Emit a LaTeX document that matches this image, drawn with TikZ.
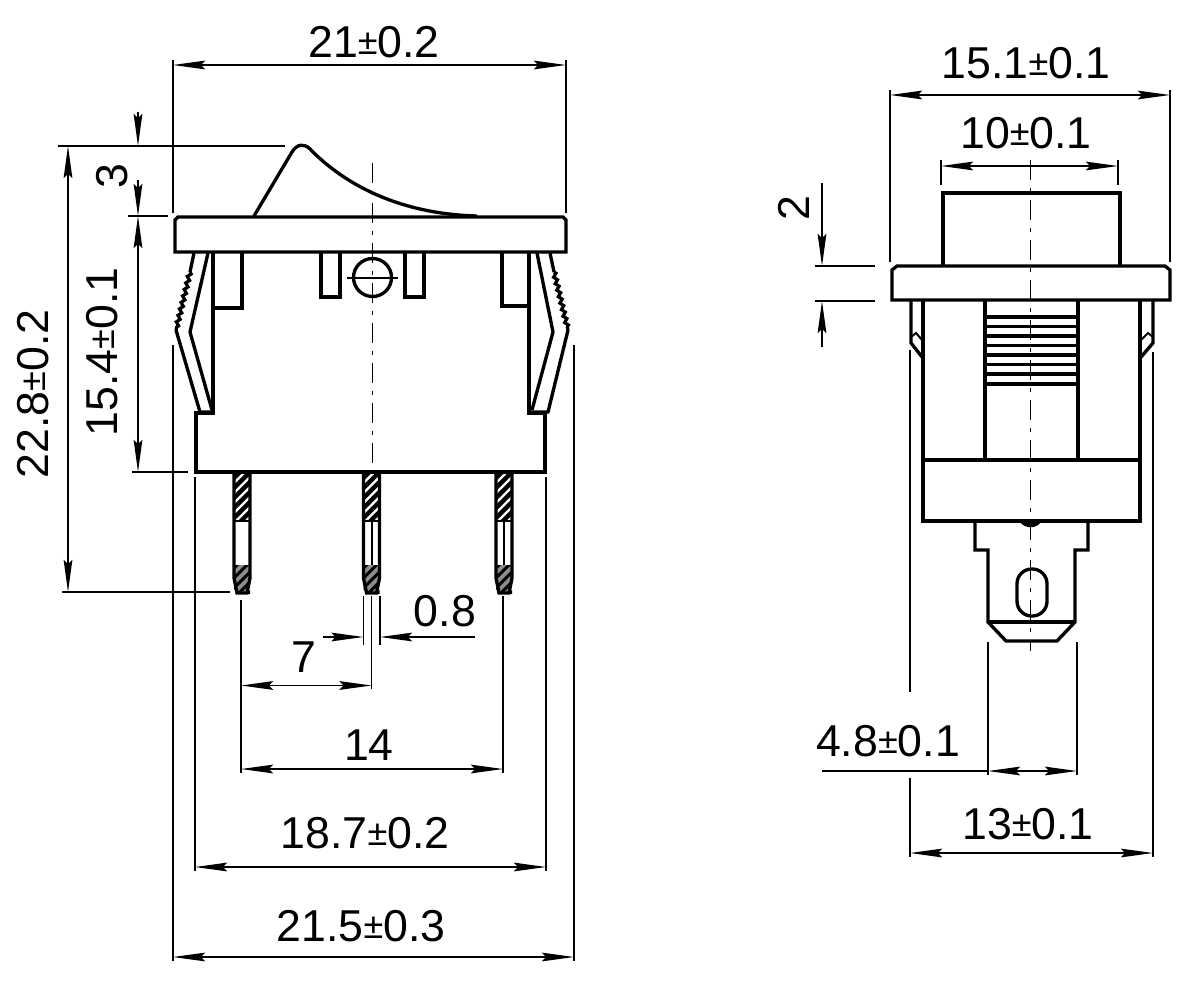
\documentclass[tikz,border=0pt]{standalone}
\usepackage{fontspec}
\setmainfont{Liberation Sans}
\usetikzlibrary{arrows.meta,decorations.pathmorphing}
\newcommand{\plusminus}{{\fontsize{27}{27}\selectfont\raisebox{2pt}{±}}}
\tikzset{
    body/.style={line width=2.5pt, line join=miter},
    thinbody/.style={line width=1.5pt},
    dimline/.style={line width=1.2pt},
    dimarrow/.style={line width=1.2pt, {Stealth[length=24pt,width=6.5pt,inset=3pt]}-{Stealth[length=24pt,width=6.5pt,inset=3pt]}},
    onetip/.style={line width=1.2pt, -{Stealth[length=24pt,width=6.5pt,inset=3pt]}},
    centerline/.style={line width=1.4pt, dash pattern=on 15pt off 6pt on 3pt off 6pt},
    dimtext/.style={inner sep=0pt, font=\fontsize{33.5}{38}\selectfont}
}
\begin{document}
\begin{tikzpicture}[x=0.75pt, y=-0.75pt]
    \useasboundingbox (0,0) rectangle (1194,988);
    \fill[white] (0,0) rectangle (1194,988);

    % Rocker
    \draw[body] (254,216) -- (292,152) .. controls (297,144) and (304,143) .. (310,149)
        .. controls (345,185) and (400,214) .. (477,216);
    % Flange
    \draw[body] (175,252) -- (175,220) -- (178,217) -- (563,217) -- (566,220) -- (566,252) -- cycle;
    % Housing
    \draw[body] (213,252) -- (213,413) -- (196,413) -- (196,472) -- (545,472) -- (545,413) -- (529,413) -- (529,252);
    % Tabs under the flange
    \draw[body] (213,308) -- (242,308) -- (242,252);
    \draw[body] (529,306) -- (502,306) -- (502,252);
    \draw[body] (321,252) -- (321,297) -- (340,297) -- (340,252);
    \draw[body] (405,252) -- (405,297) -- (424,297) -- (424,252);
    % Left clip
    \draw[body] (194,253) -- (190,272);
    \draw[line width=2.4pt, decorate, decoration={zigzag,segment length=5pt,amplitude=1.2pt}] (190,272) -- (176,330);
    \draw[body] (176,330) -- (200,412) -- (212,412);
    \draw[body] (208,253) -- (190,332) -- (212,410);
    % Right clip
    \draw[body] (550,253) -- (554,272);
    \draw[line width=2.4pt, decorate, decoration={zigzag,segment length=5pt,amplitude=1.2pt}] (554,272) -- (568,330);
    \draw[body] (568,330) -- (548,412) -- (530,412);
    \draw[body] (537,253) -- (553,332) -- (532,410);
    % Lamp hole
    \draw[body] (372.5,277.5) circle (19);
    \draw[thinbody] (347,277.5) -- (398,277.5);
    \draw[centerline] (372.5,163) -- (372.5,472);

    % Pins
    \foreach \px in {242,371.5,504} {
        \begin{scope}
            \clip (\px-8,473) rectangle (\px+8,521);
            \foreach \hy in {470,480,...,530}
                \draw[line width=3.2pt] (\px-9,\hy+9) -- (\px+9,\hy-9);
        \end{scope}
        \fill[black!45] (\px-8,565) -- (\px+8,565) -- (\px+8,578) -- (\px+5,593) -- (\px-5,593) -- (\px-8,578) -- cycle;
        \begin{scope}
            \clip (\px-8,565) rectangle (\px+8,593);
            \foreach \hy in {560,570,...,600}
                \draw[line width=2.2pt] (\px-9,\hy+9) -- (\px+9,\hy-9);
        \end{scope}
        \draw[body] (\px-8,473) -- (\px-8,578) -- (\px-5,593) -- (\px+5,593) -- (\px+8,578) -- (\px+8,473);
        \draw[thinbody] (\px-8,521) -- (\px+8,521);
    }
    \draw[thinbody] (371.5,521) -- (371.5,565);
    \draw[thinbody] (504,521) -- (504,565);

    % Dimensions of the front view
    \draw[dimline] (173,60) -- (173,213);
    \draw[dimline] (566,60) -- (566,213);
    \draw[dimarrow] (173,65) -- (566,65);
    \node[dimtext] (width21) at (374,42) {21\plusminus0.2};

    \draw[dimline] (58,146) -- (285,146);
    \draw[dimline] (128,216) -- (168,216);
    \draw[dimline] (132,472) -- (188,472);
    \draw[dimline] (62,592) -- (230,592);
    \draw[onetip] (138,112) -- (138,146);
    \draw[onetip] (138,180) -- (138,216);
    \draw[dimarrow] (138,216) -- (138,472);
    \draw[dimarrow] (68,146) -- (68,592);
    \node[dimtext, rotate=90] (rocker3) at (112,176) {3};
    \node[dimtext, rotate=90] (height154) at (102,352) {15.4\plusminus0.1};
    \node[dimtext, rotate=90] (height228) at (33,394) {22.8\plusminus0.2};

    \draw[dimline] (363.5,596) -- (363.5,645);
    \draw[dimline] (380,596) -- (380,645);
    \draw[onetip] (323,637) -- (363.5,637);
    \draw[onetip] (475,637) -- (380,637);
    \node[dimtext] (pin08) at (445,611) {0.8};

    \draw[dimline] (241,600) -- (241,773);
    \draw[dimline] (371.5,596) -- (371.5,689);
    \draw[dimline] (503,596) -- (503,773);
    \draw[dimarrow] (241,685.5) -- (371.5,685.5);
    \node[dimtext] (pitch7) at (304,657) {7};
    \draw[dimarrow] (241,769) -- (503,769);
    \node[dimtext] (pitch14) at (369,745) {14};

    \draw[dimline] (195,477) -- (195,871);
    \draw[dimline] (546,477) -- (546,871);
    \draw[dimarrow] (195,867) -- (546,867);
    \node[dimtext] (width187) at (365,833) {18.7\plusminus0.2};

    \draw[dimline] (173,345) -- (173,961);
    \draw[dimline] (574,345) -- (574,961);
    \draw[dimarrow] (173,957) -- (574,957);
    \node[dimtext] (width215) at (361,926) {21.5\plusminus0.3};

    % Rocker and flange, side view
    \draw[body] (943,265) -- (943,193) -- (1120,193) -- (1120,265);
    \draw[body] (892,300) -- (892,270) -- (897,266) -- (1165,266) -- (1170,270) -- (1170,300) -- cycle;
    % Housing, side view
    \draw[body] (923,300) -- (923,521) -- (1140,521) -- (1140,300);
    \draw[body] (923,460) -- (1140,460);
    \draw[body] (985,300) -- (985,460);
    \draw[body] (1078,300) -- (1078,460);
    % Ribs
    \foreach \ry in {317,326.5,336,345.5,355,364.5,374,384}
        \draw[line width=2.4pt] (985,\ry) -- (1078,\ry);
    % Clips, side view
    \draw[body] (911,300) -- (911,343) -- (922,357);
    \draw[thinbody] (911,337) -- (916,333) -- (922,340);
    \draw[body] (1153,300) -- (1153,343) -- (1141,357);
    \draw[thinbody] (1153,337) -- (1148,333) -- (1141,340);
    % Terminal
    \draw[body] (975,521) -- (975,550) -- (988,550) -- (988,622) -- (1006,641) -- (1057,641) -- (1075,622) -- (1075,550) -- (1088,550) -- (1088,521);
    \draw[body] (988,622) -- (1075,622);
    \draw[body, rounded corners=11pt] (1017,569) rectangle (1047,616);
    \fill (1020,522) .. controls (1025,529) and (1036,529) .. (1041,522) -- cycle;
    \draw[centerline] (1030.5,160) -- (1030.5,651);

    % Dimensions of the side view
    \draw[dimline] (890,90) -- (890,262);
    \draw[dimline] (1170,90) -- (1170,262);
    \draw[dimarrow] (890,95) -- (1170,95);
    \node[dimtext] (side151) at (1026,63) {15.1\plusminus0.1};

    \draw[dimline] (941,160) -- (941,185);
    \draw[dimline] (1118,160) -- (1118,185);
    \draw[dimarrow] (941,166) -- (1118,166);
    \node[dimtext] (side10) at (1026,133) {10\plusminus0.1};

    \draw[dimline] (815,266) -- (875,266);
    \draw[dimline] (815,301) -- (875,301);
    \draw[onetip] (822,183) -- (822,266);
    \draw[onetip] (822,347) -- (822,301);
    \node[dimtext, rotate=90] (flange2) at (794,208) {2};

    \draw[dimline] (988,642) -- (988,775);
    \draw[dimline] (1077,642) -- (1077,775);
    \draw[dimline] (822,771) -- (988,771);
    \draw[dimarrow] (988,771) -- (1077,771);
    \node[dimtext] (term48) at (888,741) {4.8\plusminus0.1};

    \draw[dimline] (910,350) -- (910,692);
    \draw[dimline] (910,778) -- (910,857);
    \draw[dimline] (1153,352) -- (1153,857);
    \draw[dimarrow] (910,853) -- (1153,853);
    \node[dimtext] (side13) at (1028,824) {13\plusminus0.1};
\end{tikzpicture}
\end{document}
